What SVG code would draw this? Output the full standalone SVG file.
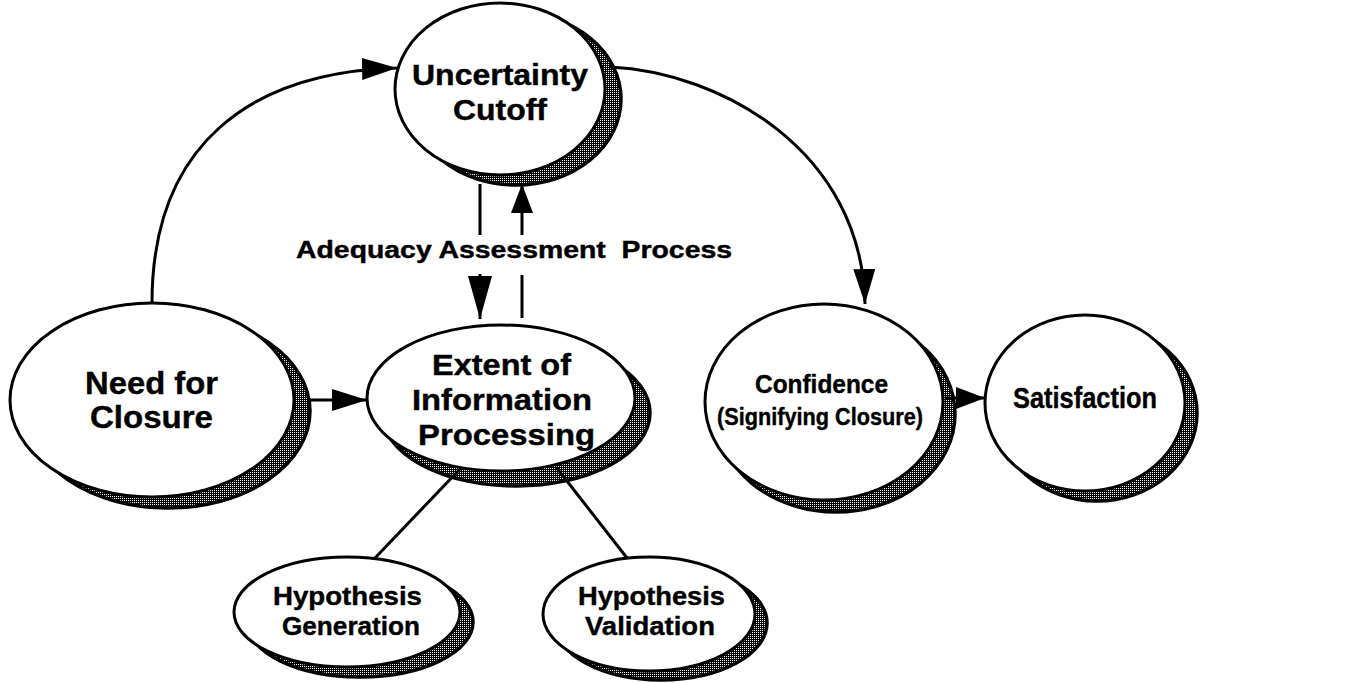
<svg xmlns="http://www.w3.org/2000/svg" width="1363" height="683" viewBox="0 0 1363 683">
  <style>
    .shadow { fill: url(#halftone); stroke: #000; stroke-width: 3.5; }
    .node { fill: #fff; stroke: #000; stroke-width: 3; }
    .lbl { font-family: "Liberation Sans", Arial, sans-serif; font-weight: bold; fill: #000; stroke: #000; stroke-width: 0.4; }
    .big { font-size: 29px; }
    .xl { font-size: 31px; }
    .mid { font-size: 26px; }
    .sm { font-size: 23px; }
    .edge { fill: none; stroke: #000; stroke-width: 3; }
  </style>
  <defs>
    <!-- dithered fill used for the drop shadows: white dots on black -->
    <pattern id="halftone" width="2" height="2" patternUnits="userSpaceOnUse">
      <rect width="2" height="2" fill="#000"/>
      <rect x="0" y="0" width="1" height="1" fill="#fff"/>
    </pattern>
    <marker id="arrow" viewBox="0 0 35 22" refX="35" refY="11" markerWidth="35" markerHeight="22" markerUnits="userSpaceOnUse" orient="auto">
      <path d="M0,0 L35,11 L0,22 Z" fill="#000"/>
    </marker>
    <marker id="arrowShort" viewBox="0 0 29 22" refX="29" refY="11" markerWidth="29" markerHeight="22" markerUnits="userSpaceOnUse" orient="auto">
      <path d="M0,0 L29,11 L0,22 Z" fill="#000"/>
    </marker>
    <marker id="arrowLong" viewBox="0 0 43 24" refX="43" refY="12" markerWidth="43" markerHeight="24" markerUnits="userSpaceOnUse" orient="auto">
      <path d="M0,0 L43,12 L0,24 Z" fill="#000"/>
    </marker>
  </defs>

  <rect width="1363" height="683" fill="#fff"/>

  <g id="uncertainty-cutoff">
    <ellipse class="shadow" cx="516" cy="99" rx="105" ry="86"/>
    <ellipse class="node" cx="500" cy="89" rx="105" ry="86"/>
    <text class="lbl big" x="412" y="85" textLength="176" lengthAdjust="spacingAndGlyphs">Uncertainty</text>
    <text class="lbl big" x="453" y="120" textLength="94" lengthAdjust="spacingAndGlyphs">Cutoff</text>
  </g>

  <g id="need-for-closure">
    <ellipse class="shadow" cx="168" cy="411" rx="142" ry="97"/>
    <ellipse class="node" cx="152" cy="400" rx="142" ry="97"/>
    <text class="lbl xl" x="85" y="394" textLength="133" lengthAdjust="spacingAndGlyphs">Need for</text>
    <text class="lbl xl" x="90" y="428" textLength="123" lengthAdjust="spacingAndGlyphs">Closure</text>
  </g>

  <g id="extent-of-information-processing">
    <ellipse class="shadow" cx="516" cy="413" rx="134" ry="73"/>
    <ellipse class="node" cx="501" cy="398" rx="134" ry="73"/>
    <text class="lbl big" x="432" y="375" textLength="139" lengthAdjust="spacingAndGlyphs">Extent of</text>
    <text class="lbl big" x="412" y="410" textLength="180" lengthAdjust="spacingAndGlyphs">Information</text>
    <text class="lbl big" x="418" y="445" textLength="177" lengthAdjust="spacingAndGlyphs">Processing</text>
  </g>

  <g id="confidence">
    <ellipse class="shadow" cx="836" cy="414" rx="119" ry="98"/>
    <ellipse class="node" cx="824" cy="402" rx="119" ry="98"/>
    <text class="lbl mid" x="755" y="393" textLength="133" lengthAdjust="spacingAndGlyphs">Confidence</text>
    <text class="lbl sm" x="717" y="425" textLength="206" lengthAdjust="spacingAndGlyphs">(Signifying Closure)</text>
  </g>

  <g id="satisfaction">
    <ellipse class="shadow" cx="1097" cy="413" rx="100" ry="88"/>
    <ellipse class="node" cx="1085" cy="403" rx="100" ry="88"/>
    <text class="lbl big" x="1013" y="408" textLength="144" lengthAdjust="spacingAndGlyphs">Satisfaction</text>
  </g>

  <g id="hypothesis-generation">
    <ellipse class="shadow" cx="360" cy="622" rx="113" ry="55"/>
    <ellipse class="node" cx="347" cy="612" rx="113" ry="55"/>
    <text class="lbl mid" x="273" y="605" textLength="149" lengthAdjust="spacingAndGlyphs">Hypothesis</text>
    <text class="lbl mid" x="282" y="635" textLength="138" lengthAdjust="spacingAndGlyphs">Generation</text>
  </g>

  <g id="hypothesis-validation">
    <ellipse class="shadow" cx="661" cy="623" rx="106" ry="57"/>
    <ellipse class="node" cx="649" cy="614" rx="106" ry="57"/>
    <text class="lbl mid" x="578" y="605" textLength="147" lengthAdjust="spacingAndGlyphs">Hypothesis</text>
    <text class="lbl mid" x="585" y="635" textLength="130" lengthAdjust="spacingAndGlyphs">Validation</text>
  </g>

  <g id="connectors">
    <path class="edge" d="M152,303 C152,145 250,72 397,68" marker-end="url(#arrow)"/>
    <path class="edge" d="M610,67 C720,72 862,150 865,304" marker-end="url(#arrow)"/>
    <path class="edge" d="M308,400 L367,400" marker-end="url(#arrow)"/>
    <path class="edge" d="M946,398 L985,398" marker-end="url(#arrowShort)"/>
    <!-- adequacy assessment loop -->
    <path class="edge" d="M480,184 L480,235"/>
    <path class="edge" d="M480,274 L480,319" marker-end="url(#arrowLong)"/>
    <path class="edge" d="M522,318 L522,275"/>
    <path class="edge" d="M522,235 L522,184" marker-end="url(#arrowShort)"/>
    <!-- sub-process links -->
    <path class="edge" d="M460,469 L375,558"/>
    <path class="edge" d="M556,467 L627,558"/>
  </g>

  <text id="adequacy-label" class="lbl sm" x="296" y="258" textLength="436" lengthAdjust="spacingAndGlyphs">Adequacy Assessment&#160; Process</text>
</svg>
